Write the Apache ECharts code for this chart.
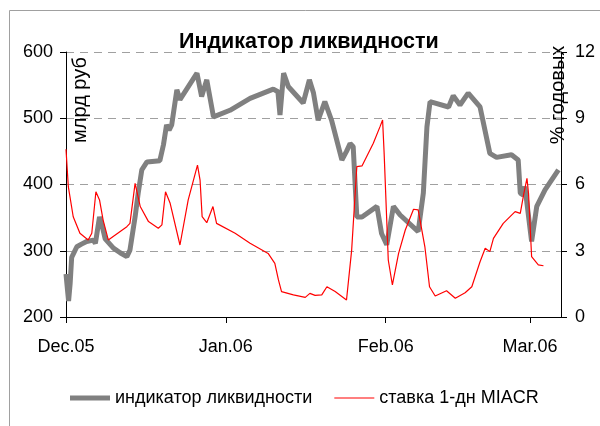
<!DOCTYPE html>
<html><head><meta charset="utf-8">
<script src="https://cdn.jsdelivr.net/npm/echarts@6/dist/echarts.min.js"></script>
<style>html,body{margin:0;padding:0;background:#fff}#c{width:600px;height:426px}</style>
</head><body><div id="c"></div>
<script>
// x = days since 1 Dec 2005
const monthDays = [0, 31, 62, 90];
const monthLabels = ['Dec.05', 'Jan.06', 'Feb.06', 'Mar.06'];
const liqName = 'индикатор ликвидности';
const rateName = 'ставка 1-дн MIACR';

const liqDays = [0,0.3,0.5,0.8,1.1,2.1,3,4,5.3,5.7,6.5,7,7.6,9.2,10.5,11.8,12.4,13.4,14,14.7,15.7,18.2,18.9,19.5,20,20.5,21.5,22.1,25.4,26.3,27.3,28.6,31.8,35.7,40.2,41.1,41.5,42.2,43.1,46,47.2,48,48.9,50.2,51.5,53.5,54.4,55.1,55.7,56.4,57.4,60.3,61.2,62.2,63.5,64.8,68.3,69.3,70,70.6,74.2,75.1,76.4,78,80.3,82.2,83.5,86.4,87.7,88.1,88.7,89,90.3,91.3,92.9,95.5];
const liqVals = [265,240,224,250,290,306,310,314,316,311,351,338,318,304,297,291,301,351,387,422,434,436,460,490,482,490,543,528,568,533,558,502,512,530,544,540,505,568,548,523,558,538,497,525,497,437,450,462,457,351,351,367,326,309,367,354,329,387,487,525,517,534,520,538,517,447,441,445,437,387,384,397,314,367,392,422];

const rateDays = [0,0.45,1.4,2.7,4.3,5,5.8,6.5,7.2,8.2,11.8,12.4,13.4,14.4,16,17.9,18.6,19.3,20.2,22.1,23.7,25.5,26,26.4,27.3,28.5,29.2,32.8,35.7,39.2,40.5,41.2,41.8,44.1,46.4,47.3,48.3,49.6,50.6,52.2,54.4,55.4,56.4,57.4,59.6,60.9,61.4,61.7,62.5,63.3,64.5,65.8,67.4,68.3,69.6,70.5,71.6,73.8,75.5,77.4,78.7,80.3,81.3,82.2,82.9,84.8,87.1,88.1,88.8,89.4,89.7,90.3,91.6,92.6];
const rateVals = [7.6,5.9,4.54,3.79,3.49,3.79,5.67,5.3,4.39,3.49,4.09,4.24,6.05,5.0,4.32,4.02,4.17,5.67,5.15,3.26,5.3,6.88,6.2,4.54,4.27,5.0,4.24,3.79,3.34,2.88,2.43,1.68,1.15,1.0,0.89,1.07,0.98,1.0,1.37,1.15,0.77,3.03,6.81,6.84,7.87,8.62,8.92,7.41,2.58,1.45,2.88,3.94,4.88,4.85,3.18,1.37,0.95,1.19,0.85,1.1,1.37,2.5,3.11,2.96,3.56,4.24,4.77,4.69,5.6,6.28,5.6,2.73,2.36,2.32];

const FONT = "'Liberation Sans', Arial, sans-serif";
const chart = echarts.init(document.getElementById('c'), null, {renderer: 'canvas'});
chart.setOption({
  animation: false,
  backgroundColor: '#fff',
  title: {
    text: 'Индикатор ликвидности', left: 179, top: 31, padding: 0,
    textStyle: {fontFamily: FONT, fontSize: 21.5, fontWeight: 'bold', color: '#000'}
  },
  legend: {
    left: 70, top: 389, itemWidth: 40, itemHeight: 14, itemGap: 22, padding: 0,
    symbolKeepAspect: true,
    textStyle: {fontFamily: FONT, fontSize: 18, color: '#000'},
    data: [
      {name: liqName, icon: 'path://M0,0H40V5H0Z'},
      {name: rateName, icon: 'path://M0,0H40V1.2H0Z'}
    ]
  },
  grid: {left: 66, right: 39, top: 52, bottom: 109, containLabel: false},
  xAxis: {
    type: 'value', min: 0, max: 96,
    axisLine: {show: true, lineStyle: {color: '#000', width: 1}},
    axisTick: {show: true, length: 6, lineStyle: {color: '#000'}, customValues: monthDays},
    axisLabel: {
      customValues: monthDays, margin: 21, color: '#000', fontFamily: FONT, fontSize: 18,
      formatter: v => monthLabels[monthDays.indexOf(Math.round(v))] || ''
    },
    splitLine: {show: false}
  },
  yAxis: [{
    type: 'value', min: 200, max: 600, interval: 100, position: 'left',
    axisLine: {show: true, lineStyle: {color: '#000'}},
    axisTick: {show: true, length: 6, lineStyle: {color: '#000'}},
    axisLabel: {margin: 13, color: '#000', fontFamily: FONT, fontSize: 18},
    splitLine: {show: true, lineStyle: {color: '#a0a0a0', type: [8, 6], width: 1}}
  }, {
    type: 'value', min: 0, max: 12, interval: 3, position: 'right',
    axisLine: {show: true, lineStyle: {color: '#000'}},
    axisTick: {show: true, length: 6, lineStyle: {color: '#000'}},
    axisLabel: {margin: 14, color: '#000', fontFamily: FONT, fontSize: 18},
    splitLine: {show: false}
  }],
  graphic: [
    {type: 'rect', shape: {x: 9.5, y: 10.5, width: 700, height: 600}, style: {fill: 'none', stroke: '#a0a0a0', lineWidth: 1}, silent: true, z: -1},
    {type: 'text', x: 80, y: 100, rotation: Math.PI / 2, style: {text: 'млрд руб', fontFamily: FONT, fontSize: 20, fill: '#000', align: 'center', verticalAlign: 'middle'}},
    {type: 'text', x: 558, y: 95, rotation: Math.PI / 2, style: {text: '% годовых', fontFamily: FONT, fontSize: 20, fill: '#000', align: 'center', verticalAlign: 'middle'}}
  ],
  series: [{
    name: liqName, type: 'line', yAxisIndex: 0, showSymbol: false, symbol: 'none',
    lineStyle: {color: '#808080', width: 5}, itemStyle: {color: '#808080'},
    data: liqDays.map((d, i) => [d, liqVals[i]]), z: 2
  }, {
    name: rateName, type: 'line', yAxisIndex: 1, showSymbol: false, symbol: 'none',
    lineStyle: {color: '#ff0000', width: 1.2}, itemStyle: {color: '#ff0000'},
    data: rateDays.map((d, i) => [d, rateVals[i]]), z: 3
  }]
});
</script></body></html>
